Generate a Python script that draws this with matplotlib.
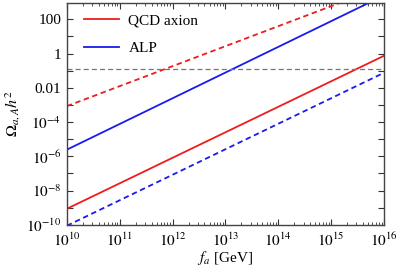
import numpy as np
import matplotlib
matplotlib.use("Agg")
import matplotlib.pyplot as plt
from matplotlib.ticker import FixedLocator, LogLocator, NullFormatter

plt.rcParams['font.family'] = ['Liberation Serif', 'DejaVu Serif']
plt.rcParams['mathtext.fontset'] = 'stix'

# data (endpoints; straight lines in log-log)
fa = [1e10, 1e16]
qcd_dashed = [10**-3.07, 10**3.93]
qcd_solid = [10**-9.06, 10**-0.13]
alp_solid = [10**-5.61, 10**3.39]
alp_dashed = [10**-10.05, 10**-1.12]
omega_dm = 0.12

ytick_vals = [1e-10, 1e-8, 1e-6, 1e-4, 1e-2, 1, 100]
ytick_labels = [r'$10^{-10}$', r'$10^{-8}$', r'$10^{-6}$', r'$10^{-4}$', '0.01', '1', '100']
xtick_vals = [1e10, 1e11, 1e12, 1e13, 1e14, 1e15, 1e16]
xtick_labels = [r'$10^{10}$', r'$10^{11}$', r'$10^{12}$', r'$10^{13}$', r'$10^{14}$', r'$10^{15}$', r'$10^{16}$']

fig = plt.figure(figsize=(3.98, 2.70), dpi=100)
ax = fig.add_axes([0.168, 0.167, 0.797, 0.822])

red = '#ee1c1c'
blue = '#1a1aee'
ax.plot(fa, qcd_solid, color=red, lw=1.3, label='QCD axion')
ax.plot(fa, alp_solid, color=blue, lw=1.3, label='ALP')
ax.plot(fa, qcd_dashed, color=red, lw=1.3, ls=(0, (3, 2)))
ax.plot(fa, alp_dashed, color=blue, lw=1.3, ls=(0, (3, 2)))
ax.axhline(omega_dm, color='#777777', lw=0.9, ls=(0, (4, 2.5)))

ax.set_xscale('log')
ax.set_yscale('log')
ax.set_xlim(1e10, 1e16)
ax.set_ylim(1e-10, 10**2.95)

ax.yaxis.set_major_locator(FixedLocator(ytick_vals))
ax.set_yticklabels(ytick_labels)
ax.yaxis.set_minor_locator(FixedLocator([10.0**k for k in range(-9, 3, 2)]))
ax.yaxis.set_minor_formatter(NullFormatter())
ax.xaxis.set_major_locator(FixedLocator(xtick_vals))
ax.set_xticklabels(xtick_labels)
ax.xaxis.set_minor_locator(LogLocator(base=10, subs=np.arange(2, 10), numticks=20))
ax.xaxis.set_minor_formatter(NullFormatter())

ax.tick_params(which='both', direction='in', top=True, right=True, labelsize=11, colors='#333333', labelcolor='black')
ax.tick_params(which='major', length=4, width=0.8)
ax.tick_params(which='minor', length=2.2, width=0.6)
ax.tick_params(axis='y', which='minor', length=4, width=0.8)
ax.tick_params(axis='x', which='major', pad=5)
ax.tick_params(axis='y', which='major', pad=4)
for s in ax.spines.values():
    s.set_color('#444444')
    s.set_linewidth(1.0)

ax.set_xlabel(r'$f_a$ [GeV]', fontsize=11, labelpad=0)
ax.set_ylabel(r'$\mathit{\Omega}_{a,A}h^2$', fontsize=11.5, labelpad=2)

leg = ax.legend(loc='upper left', bbox_to_anchor=(0.035, 0.98), borderaxespad=0,
                frameon=False, fontsize=11, handlelength=2.3,
                handletextpad=0.6, labelspacing=0.95)

fig.savefig('out.png', dpi=100)
